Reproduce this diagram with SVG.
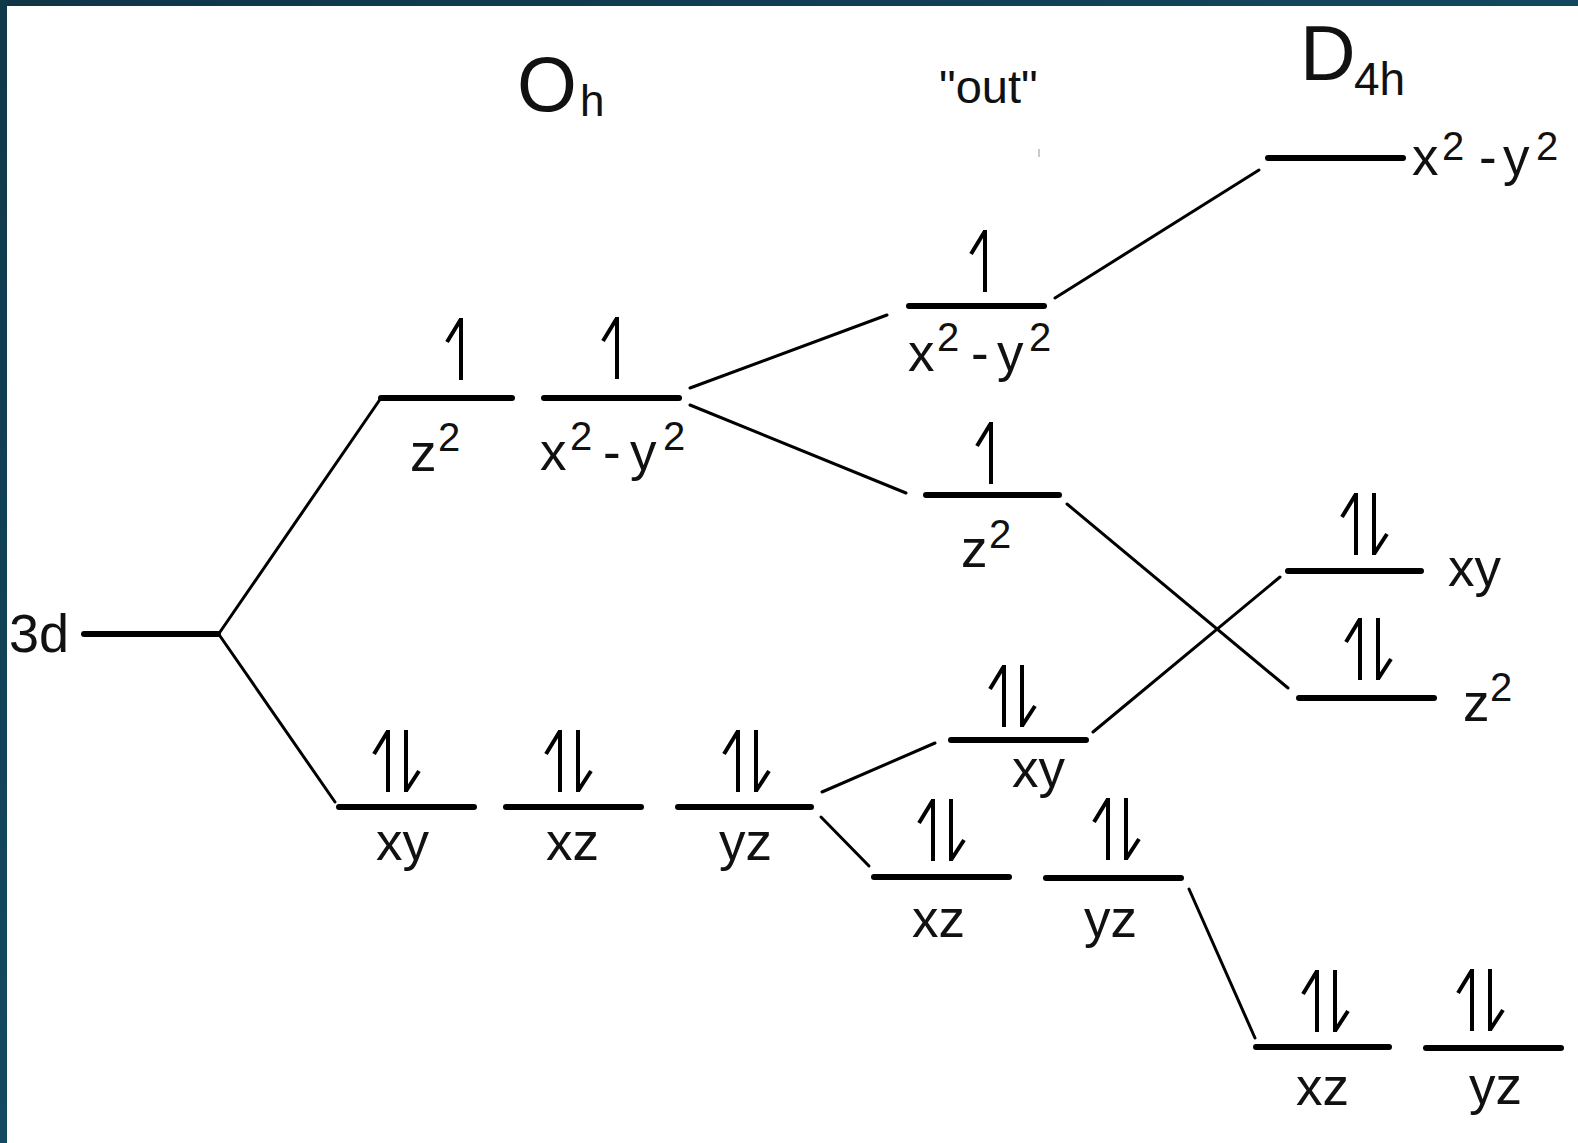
<svg xmlns="http://www.w3.org/2000/svg" xmlns:xlink="http://www.w3.org/1999/xlink" width="1578" height="1143" viewBox="0 0 1578 1143">
  <style>
    .level { stroke: #000; stroke-width: 6; stroke-linecap: round; fill: none; }
    .link { stroke: #000; stroke-width: 3; stroke-linecap: round; fill: none; }
    .spin { stroke: #000; stroke-width: 4; stroke-linecap: butt; stroke-linejoin: miter; fill: none; }
    .lbl { font-family: "Liberation Sans", Arial, sans-serif; font-size: 53px; fill: #111; }
    .sup { font-size: 40px; }
    .title { font-family: "Liberation Sans", Arial, sans-serif; font-size: 77px; fill: #111; }
    .sub { font-size: 44px; }
  </style>
  <defs>
    <linearGradient id="barTop" x1="0" y1="0" x2="1" y2="0">
      <stop offset="0" stop-color="#0f3547"/>
      <stop offset="1" stop-color="#12475f"/>
    </linearGradient>
    <linearGradient id="barLeft" x1="0" y1="0" x2="0" y2="1">
      <stop offset="0" stop-color="#0f3849"/>
      <stop offset="1" stop-color="#134a61"/>
    </linearGradient>
    <!-- spin-up harpoon: shaft with barb to the upper left -->
    <path id="up" class="spin" d="M0,0 V62 M0,1 L-14,24"/>
    <!-- spin-down harpoon: shaft with barb to the lower right -->
    <path id="down" class="spin" d="M0,0 V62 M0,61 L13,41"/>
    <g id="pair">
      <use xlink:href="#up"/>
      <use xlink:href="#down" x="18"/>
    </g>
  </defs>

  <rect width="1578" height="1143" fill="#fff"/>
  <rect x="0" y="0" width="1578" height="6" fill="url(#barTop)"/>
  <rect x="0" y="0" width="7" height="1143" fill="url(#barLeft)"/>

  <!-- column headings -->
  <g id="heading-oh">
    <text class="title" x="517" y="111">O<tspan class="sub" x="580" y="116">h</tspan></text>
  </g>
  <g id="heading-out">
    <text class="lbl" style="font-size:47px" x="939" y="103">"out"</text>
    <line x1="1039" y1="149" x2="1039" y2="157" stroke="#b8b8b8" stroke-width="1.5"/>
  </g>
  <g id="heading-d4h">
    <text class="title" x="1300" y="80">D<tspan class="sub" style="font-size:46px" x="1354" y="95">4h</tspan></text>
  </g>

  <!-- connectors between levels -->
  <g id="connectors">
    <line class="link" x1="220" y1="632" x2="381" y2="398"/>
    <line class="link" x1="220" y1="636" x2="335" y2="802"/>
    <line class="link" x1="690" y1="388" x2="887" y2="315"/>
    <line class="link" x1="690" y1="405" x2="906" y2="493"/>
    <line class="link" x1="1055" y1="298" x2="1259" y2="170"/>
    <line class="link" x1="1067" y1="504" x2="1288" y2="688"/>
    <line class="link" x1="1093" y1="732" x2="1280" y2="577"/>
    <line class="link" x1="822" y1="792" x2="935" y2="743"/>
    <line class="link" x1="821" y1="817" x2="869" y2="866"/>
    <line class="link" x1="1189" y1="889" x2="1255" y2="1038"/>
  </g>

  <!-- free ion -->
  <g id="n-3d">
    <text class="lbl" style="font-size:54px" x="9" y="652">3d</text>
    <line class="level" x1="84" y1="634" x2="218" y2="634"/>
  </g>

  <!-- octahedral levels -->
  <g id="oh-z2">
    <line class="level" x1="381" y1="398" x2="512" y2="398"/>
    <use xlink:href="#up" x="461" y="318"/>
    <text class="lbl" x="410" y="471">z<tspan class="sup" x="438" y="451">2</tspan></text>
  </g>
  <g id="oh-x2y2">
    <line class="level" x1="544" y1="398" x2="679" y2="398"/>
    <use xlink:href="#up" x="617" y="317"/>
    <text class="lbl" x="540" y="470">x<tspan class="sup" x="570" y="450">2</tspan><tspan x="603" y="470">-</tspan><tspan x="630" y="470">y</tspan><tspan class="sup" x="663" y="450">2</tspan></text>
  </g>
  <g id="oh-xy">
    <line class="level" x1="339" y1="807" x2="474" y2="807"/>
    <use xlink:href="#pair" x="388" y="730"/>
    <text class="lbl" x="376" y="860">xy</text>
  </g>
  <g id="oh-xz">
    <line class="level" x1="506" y1="807" x2="641" y2="807"/>
    <use xlink:href="#pair" x="560" y="730"/>
    <text class="lbl" x="546" y="860">xz</text>
  </g>
  <g id="oh-yz">
    <line class="level" x1="678" y1="807" x2="811" y2="807"/>
    <use xlink:href="#pair" x="738" y="730"/>
    <text class="lbl" x="719" y="860">yz</text>
  </g>

  <!-- intermediate ("out") levels -->
  <g id="out-x2y2">
    <line class="level" x1="909" y1="306" x2="1044" y2="306"/>
    <use xlink:href="#up" x="985" y="230"/>
    <text class="lbl" x="908" y="371">x<tspan class="sup" x="937" y="351">2</tspan><tspan x="971" y="371">-</tspan><tspan x="997" y="371">y</tspan><tspan class="sup" x="1029" y="351">2</tspan></text>
  </g>
  <g id="out-z2">
    <line class="level" x1="926" y1="495" x2="1059" y2="495"/>
    <use xlink:href="#up" x="991" y="422"/>
    <text class="lbl" x="961" y="567">z<tspan class="sup" x="989" y="548">2</tspan></text>
  </g>
  <g id="out-xy">
    <line class="level" x1="951" y1="740" x2="1086" y2="740"/>
    <use xlink:href="#pair" x="1004" y="665"/>
    <text class="lbl" x="1012" y="787">xy</text>
  </g>
  <g id="out-xz">
    <line class="level" x1="874" y1="877" x2="1009" y2="877"/>
    <use xlink:href="#pair" x="933" y="799"/>
    <text class="lbl" x="912" y="937">xz</text>
  </g>
  <g id="out-yz">
    <line class="level" x1="1046" y1="878" x2="1181" y2="878"/>
    <use xlink:href="#pair" x="1108" y="798"/>
    <text class="lbl" x="1084" y="937">yz</text>
  </g>

  <!-- tetragonal (D4h) levels -->
  <g id="d4h-x2y2">
    <line class="level" x1="1268" y1="158" x2="1403" y2="158"/>
    <text class="lbl" x="1412" y="175">x<tspan class="sup" x="1442" y="160">2</tspan><tspan x="1479" y="175">-</tspan><tspan x="1503" y="175">y</tspan><tspan class="sup" x="1536" y="160">2</tspan></text>
  </g>
  <g id="d4h-xy">
    <line class="level" x1="1288" y1="571" x2="1421" y2="571"/>
    <use xlink:href="#pair" x="1356" y="493"/>
    <text class="lbl" x="1448" y="586">xy</text>
  </g>
  <g id="d4h-z2">
    <line class="level" x1="1299" y1="698" x2="1434" y2="698"/>
    <use xlink:href="#pair" x="1360" y="618"/>
    <text class="lbl" x="1463" y="721">z<tspan class="sup" x="1490" y="701">2</tspan></text>
  </g>
  <g id="d4h-xz">
    <line class="level" x1="1256" y1="1047" x2="1389" y2="1047"/>
    <use xlink:href="#pair" x="1317" y="970"/>
    <text class="lbl" x="1296" y="1105">xz</text>
  </g>
  <g id="d4h-yz">
    <line class="level" x1="1426" y1="1048" x2="1561" y2="1048"/>
    <use xlink:href="#pair" x="1472" y="969"/>
    <text class="lbl" x="1469" y="1104">yz</text>
  </g>
</svg>
